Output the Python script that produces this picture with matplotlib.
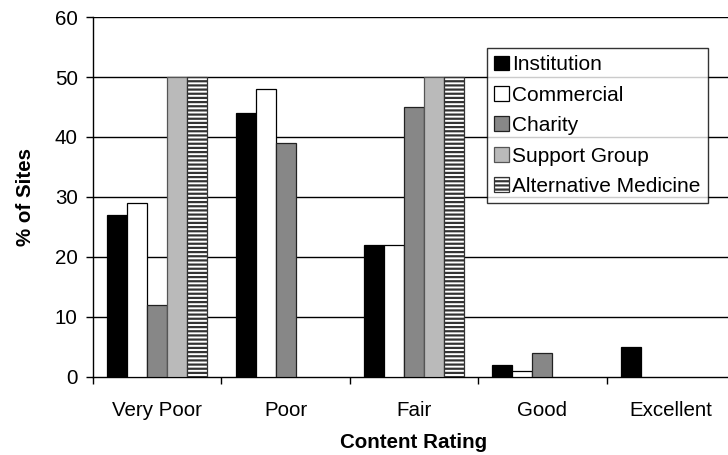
import matplotlib
matplotlib.use("Agg")
import matplotlib.pyplot as plt
import numpy as np

plt.rcParams['font.family'] = ['Liberation Sans', 'DejaVu Sans']
plt.rcParams['hatch.linewidth'] = 1.6

categories = ["Very Poor", "Poor", "Fair", "Good", "Excellent"]
series_names = ["Institution", "Commercial", "Charity", "Support Group", "Alternative Medicine"]
institution = [27, 44, 22, 2, 5]
commercial = [29, 48, 22, 1, 0]
charity = [12, 39, 45, 4, 0]
support_group = [50, 0, 50, 0, 0]
alternative_medicine = [50, 0, 50, 0, 0]
y_ticks = [0, 10, 20, 30, 40, 50, 60]

series = [institution, commercial, charity, support_group, alternative_medicine]
faces = ["#000000", "#ffffff", "#878787", "#bababa", "#ffffff"]
edges = ["#000000", "#000000", "#222222", "#555555", "#333333"]
hatches = [None, None, None, None, "----"]

fig = plt.figure(figsize=(7.28, 4.55), dpi=100)
ax = fig.add_axes([93 / 728, 78 / 455, 642 / 728, 360 / 455])

x = np.arange(len(categories))
w = 0.1556
for j, (vals, name) in enumerate(zip(series, series_names)):
    vals = np.asarray(vals, dtype=float)
    # empty categories get no bar at all
    lw = np.where(vals > 0, 0.9, 0.0)
    ax.bar(x + (j - 2) * w, vals, width=w, color=faces[j], edgecolor=edges[j],
           linewidth=lw, hatch=hatches[j], label=name, zorder=3)

ax.set_xlim(-0.5, 4.5)
ax.set_ylim(0, 60)
ax.set_yticks(y_ticks)
ax.set_xticks(x)
ax.set_xticklabels(categories)
ax.set_xticks(np.arange(-0.5, 5.0, 1.0), minor=True)
ax.tick_params(axis='x', which='major', length=0, labelsize=14.8, pad=17)
ax.tick_params(axis='x', which='minor', length=5, width=1, direction='out')
ax.tick_params(axis='y', length=5, width=1, direction='out', labelsize=14.8, pad=6)

for v in y_ticks[1:]:
    ax.axhline(v, color="#000000", linewidth=1, zorder=1)

for s in ["top", "right"]:
    ax.spines[s].set_visible(False)
ax.spines["left"].set_linewidth(1)
ax.spines["bottom"].set_linewidth(1)

ax.set_ylabel("% of Sites", fontsize=14.8, fontweight='bold', labelpad=14)
ax.set_xlabel("Content Rating", fontsize=14.8, fontweight='bold', labelpad=10)

leg = ax.legend(loc='upper left', bbox_to_anchor=(487 / 728, 1 - 48 / 455),
                bbox_transform=fig.transFigure, fontsize=15, frameon=True,
                fancybox=False, shadow=False, borderpad=0.35, labelspacing=0.55,
                handlelength=0.72, handleheight=0.72, handletextpad=0.15,
                borderaxespad=0)
leg.get_frame().set_edgecolor("#000000")
leg.get_frame().set_linewidth(1)
leg.set_zorder(5)

fig.savefig("out.png", dpi=100)
